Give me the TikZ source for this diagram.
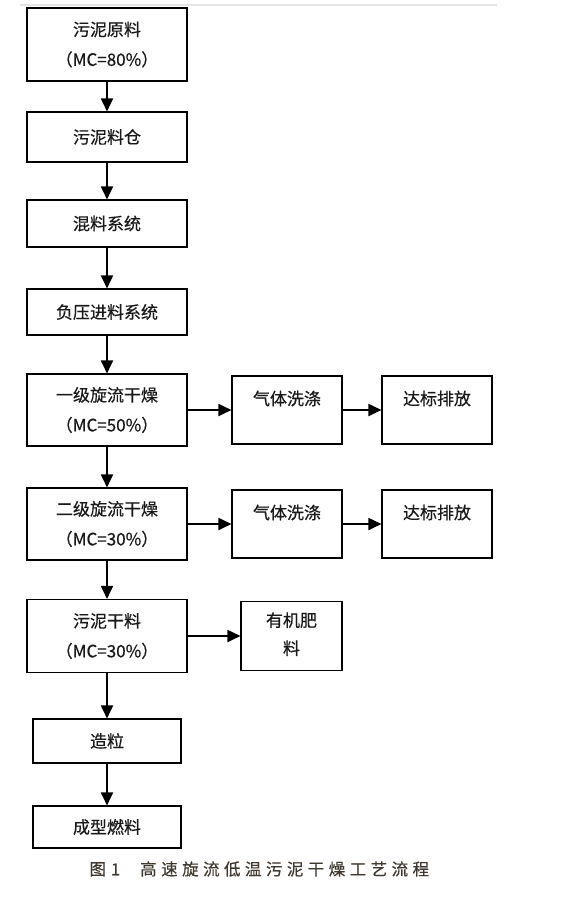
\documentclass[tikz,border=0pt]{standalone}
\usepackage{fontspec}
\setmainfont{Noto Sans CJK SC}
\newfontfamily\boxfont{Noto Sans CJK SC}[FakeBold=0.5]
\usetikzlibrary{arrows.meta}
\definecolor{captext}{RGB}{64,55,46}
\begin{document}
\begin{tikzpicture}[x=1pt,y=-1pt,
  proc/.style={draw,line width=1.1pt,align=center,text=black!90,
    font=\boxfont\fontsize{17}{30}\selectfont,minimum width=160pt},
  side/.style={proc,minimum width=110pt,minimum height=68pt,
    text height=12pt,text depth=22pt},
  flow/.style={-{Triangle[length=13pt,width=12pt]},line width=1.8pt}]
  \useasboundingbox (0,0) rectangle (568,898);
  \draw[black!10,line width=2pt] (20,4.5) -- (497,4.5);
  \node[proc,minimum height=73pt] (raw) at (107,44.5) {污泥原料\\（MC=80\%）};
  \node[proc,minimum height=50pt] (bin) at (107,137) {污泥料仓};
  \node[proc,minimum height=47pt] (mix) at (107,223.5) {混料系统};
  \node[proc,minimum height=46pt] (feed) at (107,312) {负压进料系统};
  \node[proc,minimum height=72pt] (dryA) at (107,410) {一级旋流干燥\\（MC=50\%）};
  \node[side] (washA) at (287,410) {气体洗涤};
  \node[side] (ventA) at (437,410) {达标排放};
  \node[proc,minimum height=72pt] (dryB) at (107,524) {二级旋流干燥\\（MC=30\%）};
  \node[side] (washB) at (287,524) {气体洗涤};
  \node[side] (ventB) at (437,524) {达标排放};
  \node[proc,minimum height=73pt] (dried) at (107,636) {污泥干料\\（MC=30\%）};
  \node[proc,minimum width=101pt,minimum height=69pt,text depth=5pt,
    font=\boxfont\fontsize{17}{28}\selectfont] (fert) at (291.5,636) {有机肥\\料};
  \node[proc,minimum width=148pt,minimum height=44pt] (gran) at (107,741) {造粒};
  \node[proc,minimum width=148pt,minimum height=42pt] (fuel) at (107,827) {成型燃料};
  \node[anchor=west,text=captext,
    font=\boxfont\fontsize{16.5}{20}\selectfont\addfontfeature{LetterSpace=27}]
    (cap) at (86,869) {图\hspace{5pt}1\hspace{20pt}高速旋流低温污泥干燥工艺流程};
  \draw[flow] (raw) -- (bin);
  \draw[flow] (bin) -- (mix);
  \draw[flow] (mix) -- (feed);
  \draw[flow] (feed) -- (dryA);
  \draw[flow] (dryA) -- (dryB);
  \draw[flow] (dryB) -- (dried);
  \draw[flow] (dried) -- (gran);
  \draw[flow] (gran) -- (fuel);
  \draw[flow] (dryA) -- (washA);
  \draw[flow] (washA) -- (ventA);
  \draw[flow] (dryB) -- (washB);
  \draw[flow] (washB) -- (ventB);
  \draw[flow] (dried) -- (fert);
\end{tikzpicture}
\end{document}
